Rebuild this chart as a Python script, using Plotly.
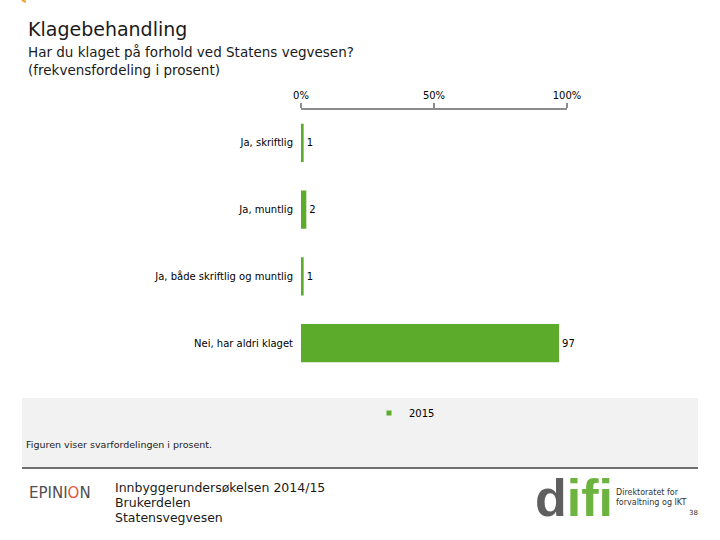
import plotly.graph_objects as go

categories = ["Ja, skriftlig", "Ja, muntlig", "Ja, både skriftlig og muntlig", "Nei, har aldri klaget"]
values_2015 = [1, 2, 1, 97]
series_name = "2015"
tick_vals = [0, 50, 100]
tick_text = ["0%", "50%", "100%"]

W, H = 720, 540
GREEN = "#5dab2b"
LOGO_GREEN = "#6cb33f"
FONT = "DejaVu Sans"

def px(x):
    return x / W

def py(y):
    return 1 - y / H

fig = go.Figure()
fig.add_trace(go.Bar(
    y=categories, x=values_2015, orientation="h",
    marker=dict(color=GREEN, line=dict(width=0)),
    text=[str(v) for v in values_2015], textposition="outside",
    textfont=dict(family=FONT, size=10, color="#000000"),
    cliponaxis=False, showlegend=False, width=0.57,
))
fig.add_trace(go.Scatter(
    x=[None], y=[None], mode="markers", name=series_name,
    marker=dict(symbol="square", size=5, color=GREEN), showlegend=True,
))

fig.update_layout(
    template="none",
    width=W, height=H, autosize=False, margin=dict(l=0, r=0, t=0, b=0, pad=0),
    paper_bgcolor="white", plot_bgcolor="white",
    font=dict(family=FONT, color="#000000"),
    bargap=0.43,
    xaxis=dict(
        domain=[px(301), px(567)], range=[0, 100], side="top",
        tickvals=tick_vals, ticktext=tick_text,
        tickfont=dict(family=FONT, size=10, color="#000000"),
        showgrid=False, zeroline=False, showline=True, linecolor="#8c8c8c", linewidth=2,
        ticks="outside", ticklen=5, tickcolor="#8c8c8c", tickwidth=2,
        anchor="y", fixedrange=True, automargin=False,
    ),
    yaxis=dict(
        domain=[py(376.5), py(109.5)], autorange="reversed",
        categoryorder="array", categoryarray=categories,
        tickfont=dict(family=FONT, size=10, color="#000000"),
        showgrid=False, zeroline=False, showline=False, ticks="",
        ticklabelstandoff=7, fixedrange=True, automargin=False,
    ),
    legend=dict(
        x=px(369), y=py(413), xanchor="left", yanchor="middle",
        bgcolor="rgba(0,0,0,0)", font=dict(family=FONT, size=10, color="#000000"),
        itemwidth=30, orientation="h",
    ),
    showlegend=True,
)

shapes = [
    dict(type="rect", xref="paper", yref="paper", x0=px(22), x1=px(698), y0=py(467), y1=py(398),
         fillcolor="#f2f2f2", line=dict(width=0), layer="below"),
    dict(type="line", xref="paper", yref="paper", x0=px(22), x1=px(698), y0=py(468), y1=py(468),
         line=dict(color="#404040", width=1.5)),
    dict(type="line", xref="paper", yref="paper", x0=px(22), x1=px(26), y0=py(0), y1=py(2),
         line=dict(color="#f0a030", width=2)),
]

annotations = [
    dict(text="Klagebehandling", x=px(26), y=py(29), xanchor="left", yanchor="middle",
         font=dict(family=FONT, size=19, color="#1a1a1a")),
    dict(text="Har du klaget på forhold ved Statens vegvesen?", x=px(26), y=py(52), xanchor="left", yanchor="middle",
         font=dict(family=FONT, size=13.5, color="#1a1a1a")),
    dict(text="(frekvensfordeling i prosent)", x=px(26), y=py(70), xanchor="left", yanchor="middle",
         font=dict(family=FONT, size=13.5, color="#1a1a1a")),
    dict(text="Figuren viser svarfordelingen i prosent.", x=px(24), y=py(444), xanchor="left", yanchor="middle",
         font=dict(family=FONT, size=9.5, color="#1a1a1a")),
    dict(text="EPINI<span style='color:#e0553c'>O</span>N", x=px(27), y=py(493), xanchor="left", yanchor="middle",
         font=dict(family=FONT, size=15, color="#505050")),
    dict(text="Innbyggerundersøkelsen 2014/15", x=px(113), y=py(487), xanchor="left", yanchor="middle",
         font=dict(family=FONT, size=12.5, color="#1a1a1a")),
    dict(text="Brukerdelen", x=px(113), y=py(502), xanchor="left", yanchor="middle",
         font=dict(family=FONT, size=12.5, color="#1a1a1a")),
    dict(text="Statensvegvesen", x=px(113), y=py(517), xanchor="left", yanchor="middle",
         font=dict(family=FONT, size=12.5, color="#1a1a1a")),
    dict(text="<b><span style='color:#5f5f5f'>d</span>ifi</b>", x=px(533), y=py(498), xanchor="left", yanchor="middle",
         font=dict(family="Liberation Sans", size=52, color=LOGO_GREEN)),
    dict(text="Direktoratet for<br>forvaltning og IKT", x=px(614), y=py(497), xanchor="left", yanchor="middle",
         align="left", font=dict(family=FONT, size=8, color="#333333")),
    dict(text="38", x=px(693), y=py(513), xanchor="center", yanchor="middle",
         font=dict(family=FONT, size=7, color="#333333")),
]
for a in annotations:
    a.update(xref="paper", yref="paper", showarrow=False)

fig.update_layout(shapes=shapes, annotations=annotations)
fig.write_html(
    "out.html",
    config={"responsive": False, "displayModeBar": False},
    post_script="document.body.style.margin='0';document.body.style.overflow='hidden';",
)
